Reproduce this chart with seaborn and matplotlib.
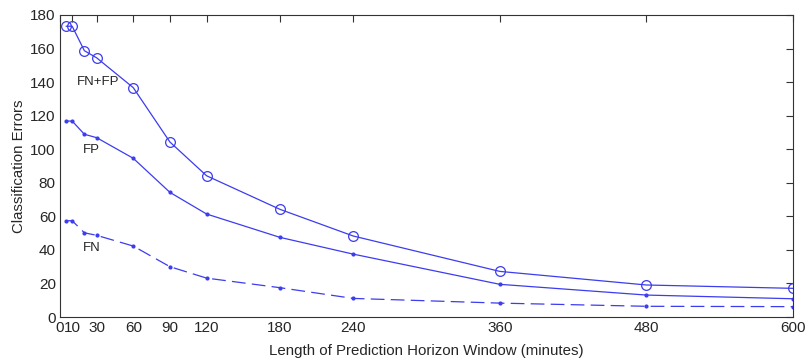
import pandas as pd
import matplotlib
matplotlib.use("Agg")
import matplotlib.pyplot as plt
import seaborn as sns

# Data
horizon = [5, 10, 20, 30, 60, 90, 120, 180, 240, 360, 480, 600]
fn_fp = [173.3, 173.3, 158.7, 154.5, 136.7, 104.3, 84.2, 64.2, 48.3, 27.2, 19.1, 17.1]
fp = [116.8, 116.8, 108.9, 106.9, 94.6, 74.3, 61.4, 47.5, 37.5, 19.5, 13.1, 10.9]
fn = [57.4, 57.4, 50.2, 48.7, 42.3, 30.0, 23.2, 17.5, 11.1, 8.3, 6.4, 6.2]

x_ticks = [0, 10, 30, 60, 90, 120, 180, 240, 360, 480, 600]
y_ticks = list(range(0, 181, 20))

df = pd.DataFrame({"horizon": horizon, "FN+FP": fn_fp, "FP": fp, "FN": fn})

sns.set_style("white")
plt.rcParams["font.family"] = ["Liberation Sans", "DejaVu Sans"]

fig = plt.figure(figsize=(8.07, 3.64), dpi=100)
ax = fig.add_axes([0.0743, 0.129, 0.9084, 0.8298])

line_color = "#3c3cf0"

sns.lineplot(data=df, x="horizon", y="FN+FP", color=line_color, marker="o",
             markersize=7, markerfacecolor="none", markeredgecolor=line_color,
             markeredgewidth=0.9, linewidth=0.9, ax=ax)
sns.lineplot(data=df, x="horizon", y="FP", color=line_color, marker="o",
             markersize=3, markeredgewidth=0, linewidth=0.9, ax=ax)
sns.lineplot(data=df, x="horizon", y="FN", color=line_color, marker="o",
             markersize=3, markeredgewidth=0, linewidth=0.9, ax=ax)
ax.lines[-1].set_linestyle((0, (11, 5)))

# Inline series labels
ax.text(14, 140, "FN+FP", fontsize=9.5, va="center", ha="left")
ax.text(19, 99.5, "FP", fontsize=9.5, va="center", ha="left")
ax.text(19, 41, "FN", fontsize=9.5, va="center", ha="left")

ax.set_xlim(0, 600)
ax.set_ylim(0, 180)
ax.set_xticks(x_ticks)
ax.set_yticks(y_ticks)
ax.set_xlabel("Length of Prediction Horizon Window (minutes)", fontsize=10.8, labelpad=6)
ax.set_ylabel("Classification Errors", fontsize=10.8, labelpad=3)
ax.tick_params(direction="in", top=True, right=True, length=5, width=0.8,
               labelsize=11, pad=3, color="#333333")

for spine in ax.spines.values():
    spine.set_visible(True)
    spine.set_linewidth(0.8)
    spine.set_color("#333333")

fig.savefig("out.png", dpi=100)
